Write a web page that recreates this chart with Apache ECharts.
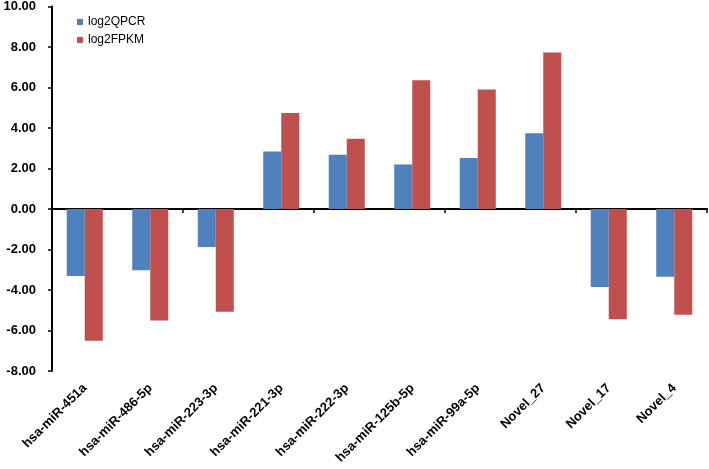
<!DOCTYPE html>
<html>
<head>
<meta charset="utf-8">
<script src="https://cdn.jsdelivr.net/npm/echarts@6/dist/echarts.min.js"></script>
<style>html,body{margin:0;padding:0;background:#fff}#c{width:709px;height:469px}</style>
</head>
<body>
<div id="c"></div>
<script>
const categories = ['hsa-miR-451a','hsa-miR-486-5p','hsa-miR-223-3p','hsa-miR-221-3p','hsa-miR-222-3p','hsa-miR-125b-5p','hsa-miR-99a-5p','Novel_27','Novel_17','Novel_4'];
const log2QPCR = [-3.31, -3.03, -1.88, 2.84, 2.68, 2.20, 2.52, 3.74, -3.85, -3.34];
const log2FPKM = [-6.50, -5.50, -5.08, 4.74, 3.47, 6.36, 5.90, 7.73, -5.45, -5.22];
const yTicks = {min: -8, max: 10, interval: 2};

const FONT = 'Liberation Sans, Arial, sans-serif';
const chart = echarts.init(document.getElementById('c'), null, {renderer: 'canvas'});
chart.setOption({
  animation: false,
  backgroundColor: '#fff',
  grid: {left: 52, right: 2, top: 6.5, bottom: 98, containLabel: false},
  legend: {
    orient: 'vertical', left: 77, top: 16, padding: 0, itemWidth: 6, itemHeight: 6, itemGap: 6,
    icon: 'rect',
    textStyle: {fontFamily: FONT, fontSize: 12, color: '#000'},
    data: ['log2QPCR', 'log2FPKM']
  },
  xAxis: [
    {
      type: 'category', data: categories, position: 'bottom',
      axisLine: {show: false, onZero: false}, axisTick: {show: false},
      axisLabel: {rotate: 45, interval: 0, margin: 15, color: '#000', fontFamily: FONT, fontWeight: 'bold', fontSize: 13}
    },
    {
      type: 'category', data: categories, position: 'bottom',
      axisLine: {show: true, onZero: true, lineStyle: {color: '#000', width: 2}},
      axisTick: {show: true, length: 4, lineStyle: {color: '#000', width: 1.5}},
      axisLabel: {show: false}
    }
  ],
  yAxis: {
    type: 'value', min: yTicks.min, max: yTicks.max, interval: yTicks.interval,
    splitLine: {show: false},
    axisLine: {show: true, lineStyle: {color: '#000', width: 2}},
    axisTick: {show: true, length: 4, lineStyle: {color: '#000', width: 1.5}},
    axisLabel: {margin: 16, color: '#000', fontFamily: FONT, fontWeight: 'bold', fontSize: 13,
      formatter: v => v.toFixed(2)}
  },
  series: [
    {name: 'log2QPCR', type: 'bar', data: log2QPCR, xAxisIndex: 0, barGap: '0%', barCategoryGap: '45%',
     itemStyle: {color: '#4F81BD'}},
    {name: 'log2FPKM', type: 'bar', data: log2FPKM, xAxisIndex: 0, barGap: '0%', barCategoryGap: '45%',
     itemStyle: {color: '#C0504D'}}
  ]
});
</script>
</body>
</html>
